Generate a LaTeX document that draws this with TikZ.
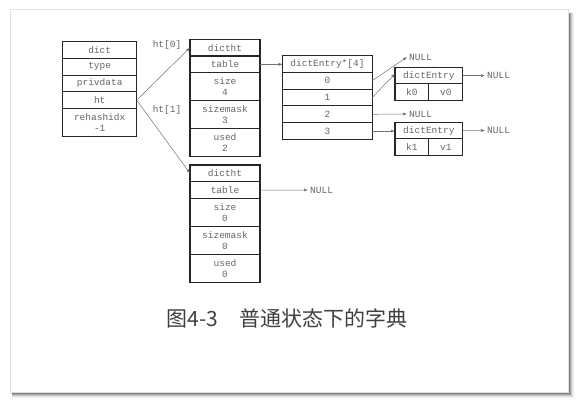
\documentclass[tikz,border=0pt]{standalone}
\usepackage{fontspec}
\setmonofont{Liberation Mono}
\newfontfamily\cjk{Noto Sans CJK SC}
\usepackage{tikz}
\usetikzlibrary{positioning,arrows.meta}

\begin{document}
\begin{tikzpicture}[
  x=1pt, y=-1pt, >={Latex[length=4pt,width=3pt]},
  cell/.style={draw=black!85, line width=1.1pt, fill=white, outer sep=0pt, inner sep=1pt,
    align=center, text=black!60, font=\ttfamily\fontsize{9.5}{11.5}\selectfont, minimum height=16.7pt},
  tall/.style={minimum height=28pt},
  dcell/.style={cell, minimum width=74pt},
  hcell/.style={cell, minimum width=70pt},
  bcell/.style={cell, minimum width=89.6pt, minimum height=16.8pt},
  ecell/.style={cell, minimum width=67.7pt, minimum height=16pt},
  kvcell/.style={cell, minimum width=33.85pt, minimum height=17pt},
  lbl/.style={text=black!60, font=\ttfamily\fontsize{9.5}{11.5}\selectfont, inner sep=0pt},
  arr/.style={->, line width=0.5pt, color=black!55},
]
\useasboundingbox (0,0) rectangle (580,403);

% card with shadow
\foreach \i/\c in {1/65,2/50,3/35,4/22,5/12,6/5}
  \draw[black!\c, line width=1pt] (567.5+\i,13) |- (12,391.5+\i);
\draw[black!12, fill=white] (10,9) rectangle (568,392);

% dict
\node[dcell, anchor=north west] (dict) at (62.7,41.7) {dict};
\node[dcell, below=0pt of dict] (type) {type};
\node[dcell, below=0pt of type] (priv) {privdata};
\node[dcell, below=0pt of priv] (ht) {ht};
\node[dcell, tall, below=0pt of ht] (rehash) {rehashidx\\-1};

% ht[0]
\node[hcell, anchor=north west] (h0head) at (190,39.3) {dictht};
\node[hcell, below=0pt of h0head] (h0table) {table};
\node[hcell, tall, below=0pt of h0table] (h0size) {size\\4};
\node[hcell, tall, below=0pt of h0size] (h0mask) {sizemask\\3};
\node[hcell, tall, below=0pt of h0mask] (h0used) {used\\2};

% ht[1]
\node[hcell, anchor=north west] (h1head) at (190,165) {dictht};
\node[hcell, below=0pt of h1head] (h1table) {table};
\node[hcell, tall, below=0pt of h1table] (h1size) {size\\0};
\node[hcell, tall, below=0pt of h1size] (h1mask) {sizemask\\0};
\node[hcell, tall, below=0pt of h1mask] (h1used) {used\\0};

\node[lbl] (lht0) at (167,45) {ht[0]};
\node[lbl] (lht1) at (167,110) {ht[1]};

% buckets
\node[bcell, anchor=north west] (bkthead) at (282.7,55.5) {dictEntry*[4]};
\node[bcell, below=0pt of bkthead] (bkt0) {0};
\node[bcell, below=0pt of bkt0] (bkt1) {1};
\node[bcell, below=0pt of bkt1] (bkt2) {2};
\node[bcell, below=0pt of bkt2] (bkt3) {3};

% entries
\node[ecell, anchor=north west] (e0head) at (395,67.7) {dictEntry};
\node[kvcell, anchor=north west] (e0k) at (e0head.south west) {k0};
\node[kvcell, right=0pt of e0k] (e0v) {v0};
\node[ecell, anchor=north west] (e1head) at (395,122.7) {dictEntry};
\node[kvcell, anchor=north west] (e1k) at (e1head.south west) {k1};
\node[kvcell, right=0pt of e1k] (e1v) {v1};

% NULLs
\node[lbl, anchor=west] (null0) at (409,57) {NULL};
\node[lbl, anchor=west] (null2) at (409,114) {NULL};
\node[lbl, anchor=west] (nullA) at (487,75.7) {NULL};
\node[lbl, anchor=west] (nullB) at (487,130.5) {NULL};
\node[lbl, anchor=west] (null1) at (310,190) {NULL};

\draw[arr] (ht.east) -- (h0head.west);
\draw[arr] (ht.east) -- (h1head.west);
\draw[arr] (h0table.east) -- (h0table.east -| bkthead.west);
\draw[arr] (h1table.east) -- ([xshift=-2pt]null1.west);
\draw[arr] (bkt0.east) -- ([xshift=-2pt]null0.west);
\draw[arr] (bkt1.east) -- ([yshift=2pt]e0head.west);
\draw[arr] (bkt2.east) -- ([xshift=-2pt]null2.west);
\draw[arr] (bkt3.east) -- (bkt3.east -| e1head.west);
\draw[arr] (e0head.east) -- ([xshift=-2pt]nullA.west);
\draw[arr] (e1head.east) -- ([xshift=-2pt]nullB.west);

% caption
\node[text=black!75, font=\cjk\fontsize{21}{24}\selectfont, inner sep=0pt] (cap) at (287,318) {图4-3　普通状态下的字典};
\end{tikzpicture}
\end{document}
